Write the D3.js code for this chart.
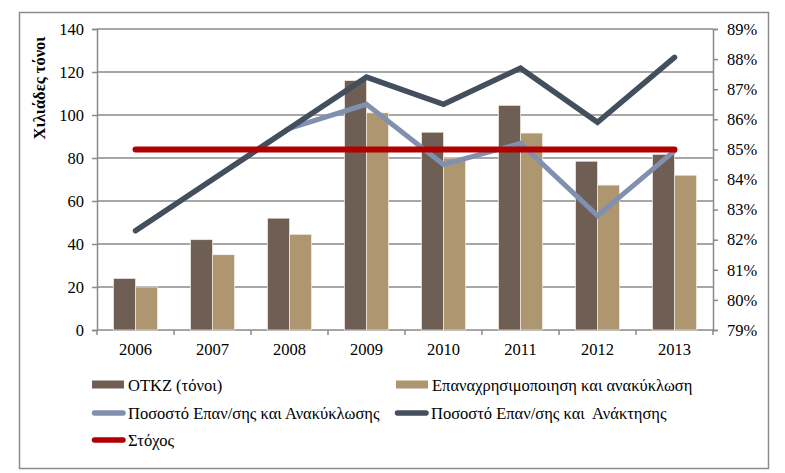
<!DOCTYPE html>
<html><head><meta charset="utf-8">
<script src="https://cdn.jsdelivr.net/npm/d3@7"></script>
<style>
body{margin:0;background:#fff;}
text{font-family:"Liberation Serif","Times New Roman",serif;fill:#000;}
</style></head>
<body><svg id="c" width="785" height="473"></svg>
<script>
const years = ["2006","2007","2008","2009","2010","2011","2012","2013"];
const otkz = [24, 42, 52, 116, 92, 104.5, 78.5, 81.7];
const reuse = [20, 35, 44.5, 101, 80, 91.6, 67.4, 72];
const rateRecycling = [0.823, 0.840, 0.857, 0.865, 0.845, 0.852, 0.828, 0.8495];
const rateRecovery = [0.823, 0.840, 0.857, 0.874, 0.865, 0.877, 0.859, 0.8806];
const target = [0.85, 0.85, 0.85, 0.85, 0.85, 0.85, 0.85, 0.85];
const leftTicks = [0, 20, 40, 60, 80, 100, 120, 140];
const rightTicks = [0.79, 0.80, 0.81, 0.82, 0.83, 0.84, 0.85, 0.86, 0.87, 0.88, 0.89];
const seriesNames = ["OTKZ (τόνοι)", "Επαναχρησιμοποιηση και ανακύκλωση", "Ποσοστό Επαν/σης και Ανακύκλωσης", "Ποσοστό Επαν/σης και  Ανάκτησης", "Στόχος"];
const colors = ["#6e5e53", "#ad9670", "#8190ae", "#434f5d", "#b00000"];

const svg = d3.select("#c");
const L = 97, R = 713, T = 29, B = 330;
const gridColor = "#8a8a8a";
const FS = "16.5px";
const FF = "'Liberation Serif', 'Times New Roman', serif";

svg.append("rect").attr("x", 19.5).attr("y", 12.5).attr("width", 749).attr("height", 456)
  .attr("fill", "#fff").attr("stroke", "#8c8c8c").attr("stroke-width", 1.5);

const x = d3.scaleBand().domain(years).range([L, R]).paddingInner(0.43).paddingOuter(0.215);
const xs = d3.scaleBand().domain([0, 1]).range([0, x.bandwidth()]);
const y = d3.scaleLinear().domain([0, 140]).range([B, T]);
const yR = d3.scaleLinear().domain([0.79, 0.89]).range([B, T]);
const cx = d => x(d) + x.bandwidth() / 2;

svg.append("g").selectAll("line").data(leftTicks.filter(t => t > 0)).join("line")
  .attr("x1", L).attr("x2", R).attr("y1", d => y(d)).attr("y2", d => y(d))
  .attr("stroke", gridColor).attr("stroke-width", 1.5);

const gl = svg.append("g").attr("transform", `translate(${L},0)`)
  .call(d3.axisLeft(y).tickValues(leftTicks).tickSize(5).tickPadding(8));
gl.attr("font-family", FF);
gl.select(".domain").attr("stroke", gridColor).attr("stroke-width", 1.5);
gl.selectAll(".tick line").attr("stroke", gridColor).attr("stroke-width", 1.5);
gl.selectAll("text").style("font-size", FS).style("font-family", FF);

const gr = svg.append("g").attr("transform", `translate(${R},0)`)
  .call(d3.axisRight(yR).tickValues(rightTicks).tickSize(5).tickPadding(9).tickFormat(d3.format(".0%")));
gr.attr("font-family", FF);
gr.select(".domain").attr("stroke", gridColor).attr("stroke-width", 1.5);
gr.selectAll(".tick line").attr("stroke", gridColor).attr("stroke-width", 1.5);
gr.selectAll("text").style("font-size", FS).style("font-family", FF);

const gb = svg.append("g").attr("transform", `translate(0,${B})`)
  .call(d3.axisBottom(x).tickSize(0).tickPadding(13));
gb.attr("font-family", FF);
gb.select(".domain").remove();
gb.selectAll("text").style("font-size", FS).style("font-family", FF);
svg.append("line").attr("x1", L).attr("x2", R).attr("y1", B).attr("y2", B)
  .attr("stroke", gridColor).attr("stroke-width", 1.5);
const step = x.step();
const bounds = years.map(d => x(d) - x.paddingInner() * step / 2).concat([R]);
svg.append("g").selectAll("line").data(bounds).join("line")
  .attr("x1", d => d).attr("x2", d => d).attr("y1", B).attr("y2", B + 5)
  .attr("stroke", gridColor).attr("stroke-width", 1.5);

[otkz, reuse].forEach((vals, i) => {
  svg.append("g").selectAll("rect").data(years).join("rect")
    .attr("x", (d) => x(d) + xs(i)).attr("width", xs.bandwidth())
    .attr("y", (d, j) => y(vals[j])).attr("height", (d, j) => B - y(vals[j]))
    .attr("fill", colors[i]).attr("stroke", "#f3ede4").attr("stroke-width", 0.7);
});

const lineGen = vals => d3.line().x((d, j) => cx(d)).y((d, j) => yR(vals[j]))(years);
[[rateRecycling, 2, 5], [rateRecovery, 3, 5.5], [target, 4, 6]].forEach(([vals, ci, w]) => {
  svg.append("path").attr("d", lineGen(vals)).attr("fill", "none")
    .attr("stroke", colors[ci]).attr("stroke-width", w)
    .attr("stroke-linecap", "round").attr("stroke-linejoin", "miter");
});

svg.append("text").attr("transform", "translate(45,88) rotate(-90)")
  .attr("text-anchor", "middle").style("font-size", FS).style("font-weight", "bold")
  .style("font-family", FF).text("Χιλιάδες τόνοι");

const legendItems = [
  {i: 0, x: 92, y: 385, type: "bar"},
  {i: 1, x: 396, y: 385, type: "bar"},
  {i: 2, x: 92, y: 413, type: "line"},
  {i: 3, x: 395, y: 413, type: "line"},
  {i: 4, x: 92, y: 440, type: "line"}
];
const lg = svg.append("g");
legendItems.forEach(it => {
  if (it.type === "bar") {
    lg.append("rect").attr("x", it.x).attr("y", it.y - 4.5).attr("width", 32).attr("height", 8).attr("fill", colors[it.i]);
  } else {
    lg.append("line").attr("x1", it.x + 2.5).attr("x2", it.x + 31).attr("y1", it.y).attr("y2", it.y)
      .attr("stroke", colors[it.i]).attr("stroke-width", 5.5).attr("stroke-linecap", "round");
  }
  lg.append("text").attr("x", it.x + 36).attr("y", it.y).attr("dy", "0.35em")
    .style("font-size", FS).style("font-family", FF).style("white-space", "pre")
    .text(seriesNames[it.i]);
});
</script></body></html>
